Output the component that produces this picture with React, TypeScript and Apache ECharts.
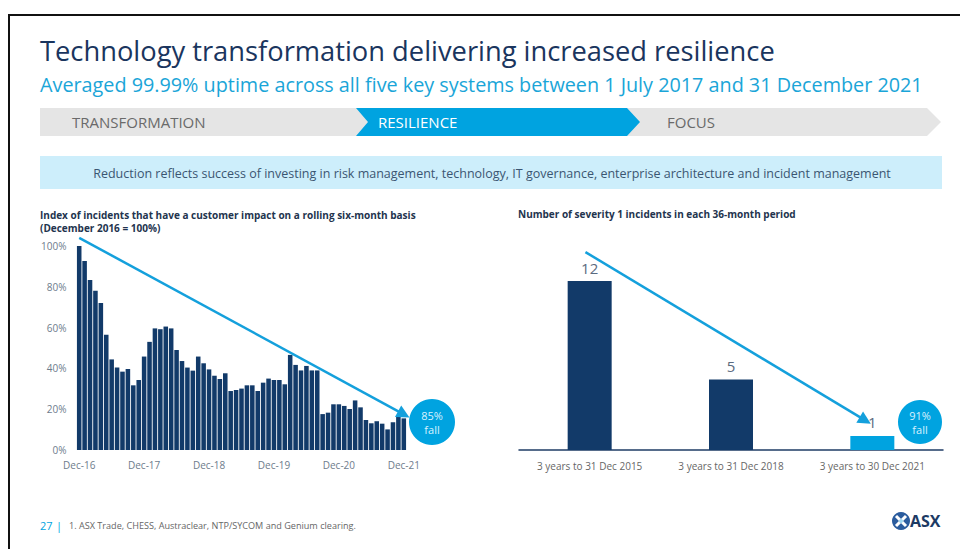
import React, { useEffect, useRef } from "react";
import * as echarts from "echarts";

// ---------- data ----------
const MONTH_NAMES = ["Jan", "Feb", "Mar", "Apr", "May", "Jun", "Jul", "Aug", "Sep", "Oct", "Nov", "Dec"];
const FIRST_MONTH = 11; // December
const FIRST_YEAR = 16; // 2016
const MONTH_COUNT = 61;
const indexCategories: string[] = Array.from({ length: MONTH_COUNT }, (_, i) => {
  const m = FIRST_MONTH + i;
  return `${MONTH_NAMES[m % 12]}-${FIRST_YEAR + Math.floor(m / 12)}`;
});
const indexValues = [
  100, 92.6, 83.3, 78, 72, 56.5, 44.4, 40.4, 38.4, 39.7, 31.7, 34.3, 45.8, 53, 59.6, 59.2, 60.5, 59.6, 49, 43.6,
  40.4, 38.9, 45.8, 42.5, 39.5, 36.4, 34.8, 37.6, 28.9, 29.4, 30.1, 31.7, 31.7, 28.9, 33, 35, 34.3, 34.3, 32.2,
  46.6, 41.7, 39, 41.2, 39, 39, 17.6, 18.3, 22.4, 22.4, 21.6, 20.1, 24.3, 20.9, 14.7, 13.1, 14.1, 12.9, 10.1,
  13.6, 16.2, 15.5,
];
// axis runs a little above 100% so the trend arrow can start above the first bar
const indexAxis = { min: 0, max: 104, interval: 20, lastLabel: 100 };
const indexArrow = { from: [0, 104], to: [60, 17.5] };

const sevCategories = ["3 years to 31 Dec 2015", "3 years to 31 Dec 2018", "3 years to 30 Dec 2021"];
const sevValues = [12, 5, 1];
const sevAxis = { min: 0, max: 14.2 };
// arrow measured in category-index units (-0.5 .. 2.5 spans the plot)
const sevArrow = { from: [-0.03, 14.06], to: [1.95, 2.1] };

const TITLE = "Technology transformation delivering increased resilience";
const SUBTITLE = "Averaged 99.99% uptime across all five key systems between 1 July 2017 and 31 December 2021";
const STEPS = ["TRANSFORMATION", "RESILIENCE", "FOCUS"];
const BANNER =
  "Reduction reflects success of investing in risk management, technology, IT governance, enterprise architecture and incident management";
const LEFT_TITLE_1 = "Index of incidents that have a customer impact on a rolling six-month basis";
const LEFT_TITLE_2 = "(December 2016 = 100%)";
const RIGHT_TITLE = "Number of severity 1 incidents in each 36-month period";
const LEFT_BADGE = "85%\nfall";
const RIGHT_BADGE = "91%\nfall";
const PAGE_NO = "27";
const FOOTNOTE = "1. ASX Trade, CHESS, Austraclear, NTP/SYCOM and Genium clearing.";

// ---------- styles ----------
const FONT = '"Open Sans", "Noto Sans", sans-serif';
const NAVY = "#123a69";
const CYAN = "#00a3e0";
const TITLE_NAVY = "#1a355e";
const GREY_TEXT = "#6e7c8c";

function txt(x: number, y: number, text: string, font: string, fill: string, align = "left", extra: any = {}) {
  return {
    type: "text",
    x,
    y,
    silent: true,
    style: { text, font, fill, textAlign: align, align, textVerticalAlign: "middle", verticalAlign: "middle", ...extra },
  };
}

function badge(cx: number, cy: number, r: number, text: string) {
  return {
    type: "group",
    x: cx,
    y: cy,
    silent: true,
    children: [
      { type: "circle", shape: { cx: 0, cy: 0, r }, style: { fill: CYAN } },
      {
        type: "text",
        x: 0,
        y: 0,
        style: {
          text,
          font: `11px ${FONT}`,
          fill: "#d8f2ff",
          lineHeight: 14,
          textAlign: "center",
          align: "center",
          textVerticalAlign: "middle",
          verticalAlign: "middle",
        },
      },
    ],
  };
}

export default function App() {
  const ref = useRef<HTMLDivElement>(null);
  useEffect(() => {
    if (!ref.current) return;
    const chart = echarts.init(ref.current, undefined, { renderer: "svg" });
    const arrowLine = {
      silent: true,
      symbol: ["none", "triangle"],
      symbolSize: 13,
      label: { show: false },
      lineStyle: { color: "#14a0dc", width: 2.5, type: "solid" },
      emphasis: { disabled: true },
    };
    const option: any = {
      animation: false,
      backgroundColor: "#ffffff",
      textStyle: { fontFamily: FONT },
      grid: [
        { left: 76.5, top: 237.8, width: 330, height: 212.2 },
        { left: 519, top: 250.1, width: 424, height: 199.9 },
      ],
      xAxis: [
        {
          type: "category",
          gridIndex: 0,
          data: indexCategories,
          axisLine: { show: false },
          axisTick: { show: false },
          axisLabel: {
            interval: 11,
            color: GREY_TEXT,
            fontSize: 10,
            margin: 10,
            fontFamily: FONT,
          },
        },
        {
          type: "category",
          gridIndex: 1,
          data: sevCategories,
          axisLine: { show: true, lineStyle: { color: "#1f3d66", width: 1.5 } },
          axisTick: { show: false },
          axisLabel: { color: "#666", fontSize: 10, margin: 11, fontFamily: FONT },
        },
        {
          type: "value",
          gridIndex: 1,
          min: -0.5,
          max: sevCategories.length - 0.5,
          show: false,
          splitLine: { show: false },
        },
      ],
      yAxis: [
        {
          type: "value",
          gridIndex: 0,
          min: indexAxis.min,
          max: indexAxis.max,
          interval: indexAxis.interval,
          axisLine: { show: false },
          axisTick: { show: false },
          splitLine: { show: false },
          axisLabel: {
            formatter: (v: number) => (v % indexAxis.interval === 0 && v <= indexAxis.lastLabel ? `${v}%` : ""),
            color: GREY_TEXT,
            fontSize: 10,
            margin: 10,
            fontFamily: FONT,
          },
        },
        {
          type: "value",
          gridIndex: 1,
          min: sevAxis.min,
          max: sevAxis.max,
          show: false,
          splitLine: { show: false },
        },
      ],
      series: [
        {
          type: "bar",
          xAxisIndex: 0,
          yAxisIndex: 0,
          data: indexValues,
          barCategoryGap: "16%",
          itemStyle: { color: NAVY },
          silent: true,
          markLine: {
            ...arrowLine,
            data: [[{ coord: indexArrow.from }, { coord: indexArrow.to }]],
          },
        },
        {
          type: "bar",
          xAxisIndex: 1,
          yAxisIndex: 1,
          barWidth: 44,
          silent: true,
          data: sevValues.map((v, i) => (i === sevValues.length - 1 ? { value: v, itemStyle: { color: CYAN } } : v)),
          itemStyle: { color: NAVY },
          label: { show: true, position: "top", distance: 6, color: "#5b6b80", fontSize: 15, fontFamily: FONT },
        },
        {
          type: "line",
          xAxisIndex: 2,
          yAxisIndex: 1,
          data: [],
          silent: true,
          markLine: {
            ...arrowLine,
            data: [[{ coord: sevArrow.from }, { coord: sevArrow.to }]],
          },
        },
      ],
      graphic: [
        // frame
        { type: "rect", silent: true, shape: { x: 8, y: 14, width: 960, height: 2 }, style: { fill: "#111" } },
        { type: "rect", silent: true, shape: { x: 8, y: 14, width: 2, height: 540 }, style: { fill: "#111" } },
        // titles
        txt(40, 50, TITLE, `normal 27.3px ${FONT}`, TITLE_NAVY),
        txt(40, 84, SUBTITLE, `normal 19.8px ${FONT}`, "#1aa5d8"),
        // step chevrons
        {
          type: "polygon",
          silent: true,
          shape: { points: [[40, 108], [927, 108], [941, 122], [927, 136], [40, 136]] },
          style: { fill: "#e5e5e5" },
        },
        {
          type: "polygon",
          silent: true,
          shape: { points: [[356, 108], [627, 108], [640, 122], [627, 136], [356, 136], [368, 122]] },
          style: { fill: CYAN },
        },
        txt(72, 122, STEPS[0], `15px ${FONT}`, "#6a6a6a"),
        txt(378, 122, STEPS[1], `15px ${FONT}`, "#ffffff"),
        txt(667, 122, STEPS[2], `15px ${FONT}`, "#6a6a6a"),
        // banner
        { type: "rect", silent: true, shape: { x: 40, y: 156, width: 902, height: 33 }, style: { fill: "#cdeefb" } },
        txt(492, 173, BANNER, `12.5px ${FONT}`, "#3b5672", "center"),
        // chart titles
        txt(40, 215, LEFT_TITLE_1, `bold 10px ${FONT}`, "#23344e"),
        txt(40, 228, LEFT_TITLE_2, `bold 10px ${FONT}`, "#23344e"),
        txt(518, 214, RIGHT_TITLE, `bold 10px ${FONT}`, "#23344e"),
        // badges
        badge(432, 422, 23, LEFT_BADGE),
        badge(920, 422, 22, RIGHT_BADGE),
        // footer
        txt(40, 525, PAGE_NO, `11px ${FONT}`, CYAN),
        txt(56, 525, "|", `11px ${FONT}`, CYAN),
        txt(69, 525, FOOTNOTE, `9.1px ${FONT}`, "#666"),
        // ASX logo
        {
          type: "group",
          x: 901,
          y: 521,
          silent: true,
          children: [
            { type: "circle", shape: { cx: 0, cy: 0, r: 9 }, style: { fill: "#2b5c9e" } },
            { type: "line", shape: { x1: -5, y1: -5, x2: 5, y2: 5 }, style: { stroke: "#ffffff", lineWidth: 3 } },
            { type: "line", shape: { x1: 5, y1: -5, x2: -5, y2: 5 }, style: { stroke: "#ffffff", lineWidth: 3 } },
            { type: "circle", shape: { cx: 0, cy: 0, r: 2 }, style: { fill: "#9fd8f2" } },
          ],
        },
        txt(910, 521, "ASX", `bold 16px ${FONT}`, "#1c3a64"),
      ],
    };
    chart.setOption(option);
    return () => chart.dispose();
  }, []);
  return (
    <div
      ref={ref}
      style={{ position: "absolute", left: 0, top: 0, width: 960, height: 549, background: "#fff" }}
    />
  );
}
